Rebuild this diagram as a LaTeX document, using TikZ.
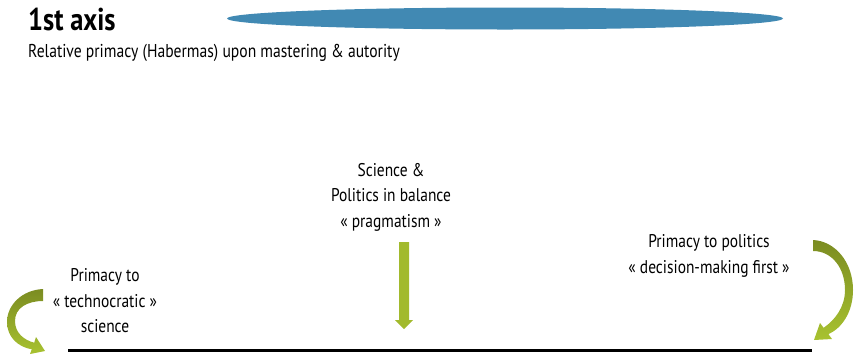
\documentclass[tikz,border=0pt]{standalone}
\usepackage{fontspec}
\setmainfont{PT Sans}[FakeStretch=0.84]
\definecolor{axisblue}{HTML}{4189B3}
\definecolor{greendark}{HTML}{7B8C22}
\definecolor{greenlight}{HTML}{A8C230}
\definecolor{greenflat}{HTML}{A2BA2D}

\begin{document}
\begin{tikzpicture}[x=1pt, y=-1pt, line cap=round, line join=round]
  \tikzset{
    title_text/.style={font=\fontsize{31.5}{32}\selectfont\bfseries, inner sep=0pt, anchor=base west},
    sub_text/.style={font=\fontsize{18.6}{22}\selectfont, inner sep=0pt, anchor=base west},
    pole_text/.style={font=\fontsize{18.4}{25.5}\selectfont, align=center, inner sep=0pt},
    bend_arrow/.style={top color=greendark, bottom color=greenlight, draw=none},
    axis_line/.style={line width=3pt, draw=black, line cap=butt}
  }
  \useasboundingbox (0,0) rectangle (854,357);

  % en-tete
  \node[title_text] (title) at (28,30) {1st axis};
  \node[sub_text] (subtitle) at (28,57) {Relative primacy (Habermas) upon mastering \& autority};
  \fill[axisblue] (505,18.5) ellipse [x radius=278pt, y radius=11pt];

  % les trois poles
  \node[pole_text] (science) at (105,301) {Primacy to\\« technocratic »\\science};
  \node[pole_text] (balance) at (391,197) {Science \&\\Politics in balance\\« pragmatism »};
  \node[pole_text] (politics) at (709,256) {Primacy to politics\\« decision-making first »};

  % axe
  \coordinate (axisL) at (68,350);
  \coordinate (axisR) at (812,350);
  \draw[axis_line] (axisL) -- (axisR);

  % fleche verticale au milieu
  \fill[greenflat] (399,242) -- (409,242) -- (409,320) -- (413,320) -- (404,329)
    -- (395,320) -- (399,320) -- cycle;

  % fleche courbe a gauche
  \path[bend_arrow] (43,289) .. controls (22,290) and (7,305) .. (7,322)
    .. controls (7,337) and (18,347) .. (31.8,349.3)
    -- (30,354) -- (45,351) -- (36,337) -- (34.2,342.7)
    .. controls (24,340) and (15,333) .. (15,321)
    .. controls (15,308) and (27,301) .. (43,301) -- cycle;

  % fleche courbe a droite
  \path[bend_arrow] (813,240) .. controls (835,241) and (853,262) .. (853,290)
    .. controls (853,312) and (842,328) .. (828.4,334.2)
    -- (832,339) -- (814,340) -- (820,323) -- (823.6,327.8)
    .. controls (835,320) and (845,307) .. (845,290)
    .. controls (845,268) and (832,251) .. (813,251) -- cycle;

\end{tikzpicture}
\end{document}
